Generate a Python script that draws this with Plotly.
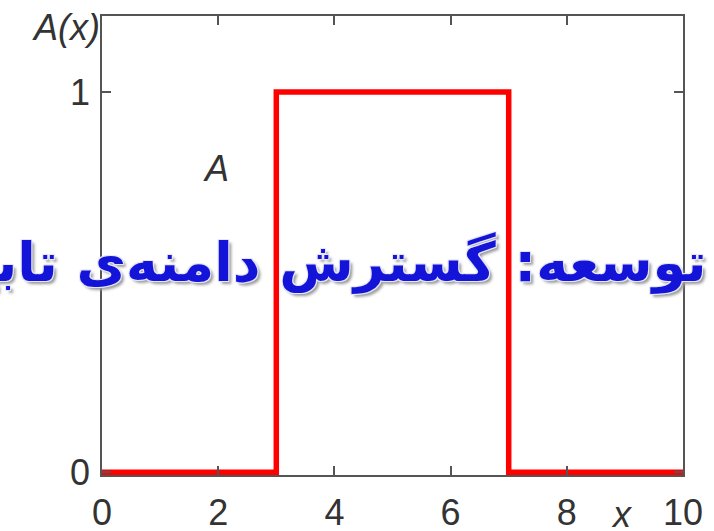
import plotly.graph_objects as go

# step function A(x): value changes at each edge ("hv" steps)
x_edges = [0, 3, 7, 10]
levels = [0, 1, 0, 0]

x_ticks = [0, 2, 4, 6, 8, 10]
y_ticks = [0, 1]

title_text = "توسعه: گسترش دامنه‌ی تابع"

axis_color = "#555555"
tick_font = dict(family="Liberation Sans, Arial, sans-serif", size=36, color="#333333")

fig = go.Figure()

fig.add_trace(go.Scatter(
    x=x_edges, y=levels,
    mode="lines",
    line=dict(color="#ff0000", width=5.5, shape="hv"),
    showlegend=False, hoverinfo="skip",
))

fig.update_layout(
    width=714,
    height=531,
    paper_bgcolor="white",
    plot_bgcolor="white",
    margin=dict(l=102, r=31, t=16, b=56),
    xaxis=dict(
        range=[0, 10],
        tickvals=x_ticks,
        ticks="inside", ticklen=9, tickwidth=1.5, tickcolor=axis_color,
        showline=True, linecolor=axis_color, linewidth=1.5, mirror="ticks",
        showgrid=False, zeroline=False, automargin=False,
        tickfont=tick_font,
        ticklabelstandoff=5,
    ),
    yaxis=dict(
        range=[-0.007, 1.2],
        tickvals=y_ticks,
        ticks="inside", ticklen=9, tickwidth=1.5, tickcolor=axis_color,
        showline=True, linecolor=axis_color, linewidth=1.5, mirror="ticks",
        showgrid=False, zeroline=False, automargin=False,
        tickfont=tick_font,
        ticklabelstandoff=3,
    ),
)

italic = dict(family="Liberation Sans, Arial, sans-serif", size=36, color="#333333", style="italic")

# axis names
fig.add_annotation(text="A(x)", xref="paper", yref="paper", x=0.0, y=0.976,
                   xanchor="right", yanchor="middle", showarrow=False, font=italic)
fig.add_annotation(text="x", xref="x", yref="paper", x=8.95, y=-0.087,
                   xanchor="center", yanchor="middle", showarrow=False, font=italic)
# region label
fig.add_annotation(text="A", xref="x", yref="y", x=1.96, y=0.80,
                   xanchor="center", yanchor="middle", showarrow=False, font=italic)

# overlay caption, runs past the left edge as in the original
fig.add_annotation(
    text=title_text, xref="paper", yref="paper", x=1.045, y=0.462,
    xanchor="right", yanchor="middle", showarrow=False,
    font=dict(family="DejaVu Sans, sans-serif", size=54,
              color="#1414d8", weight="bold",
              shadow="-1px -1px 0 #e6e6fa, 1px -1px 0 #e6e6fa, -1px 1px 0 #e6e6fa, "
                     "1px 1px 0 #e6e6fa, 3px 3px 3px #9a9a9a"),
)

# drop the default 8px page margin so the figure sits at the window's corner
fig.write_html("out.html", config={"displayModeBar": False},
               post_script="document.body.style.margin = '0';")
